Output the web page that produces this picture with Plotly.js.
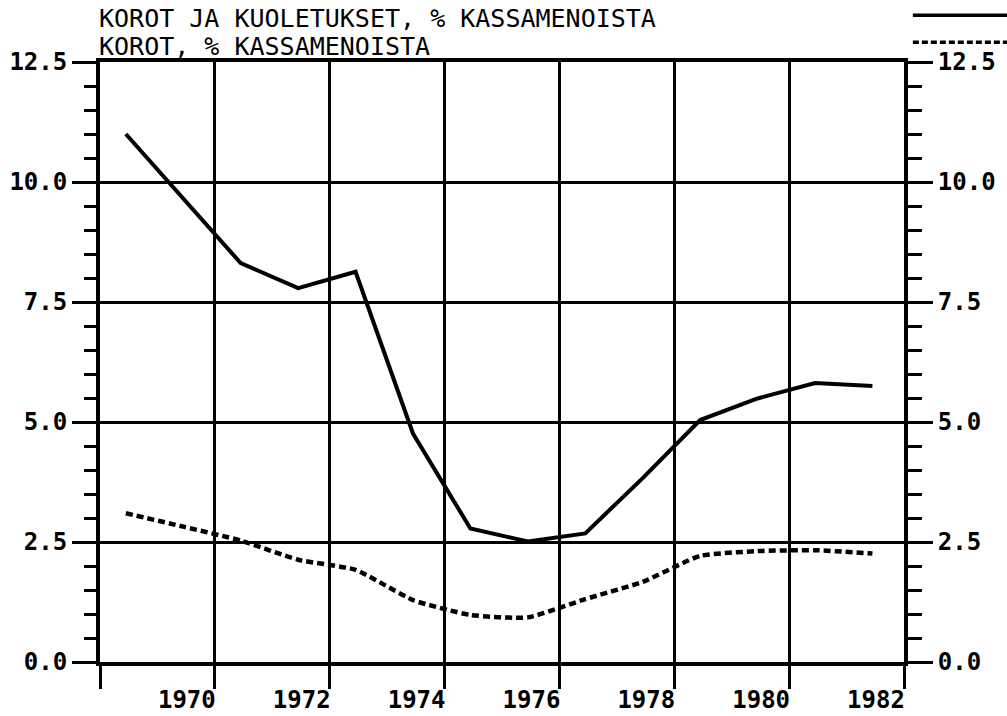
<!DOCTYPE html>
<html>
<head>
<meta charset="utf-8">
<script src="https://cdn.plot.ly/plotly-3.0.1.min.js"></script>
<style>
  html, body { margin: 0; padding: 0; background: #fff; }
  #chart { width: 1007px; height: 716px; }
</style>
</head>
<body>
<div id="chart"></div>
<script>
// ---- data ----
const years = [1968, 1969, 1970, 1971, 1972, 1973, 1974, 1975, 1976, 1977, 1978, 1979, 1980, 1981];
const korotJaKuoletukset = [11.0, 9.65, 8.31, 7.79, 8.13, 4.76, 2.78, 2.51, 2.68, 3.83, 5.04, 5.49, 5.81, 5.75];
const korot = [3.10, 2.82, 2.53, 2.13, 1.92, 1.29, 0.98, 0.93, 1.31, 1.67, 2.21, 2.31, 2.33, 2.26];
const seriesNames = ['KOROT JA KUOLETUKSET, % KASSAMENOISTA', 'KOROT, % KASSAMENOISTA'];
const xTickVals = [1968, 1970, 1972, 1974, 1976, 1978, 1980, 1982];
const xTickText = ['', '1970', '1972', '1974', '1976', '1978', '1980', '1982'];
const yTickVals = [0, 2.5, 5, 7.5, 10, 12.5];
const yTickText = ['0.0', '2.5', '5.0', '7.5', '10.0', '12.5'];

// annual values are plotted at mid-year
const MID = 0.45;
const xs = years.map(y => y + MID);

const FONT = 'DejaVu Sans Mono, Liberation Mono, monospace';
const tickFont = { family: FONT, size: 24, color: '#000', weight: 'bold' };

const traces = [
  { x: xs, y: korotJaKuoletukset, type: 'scatter', mode: 'lines', name: seriesNames[0],
    line: { color: '#000', width: 4 }, hoverinfo: 'x+y' },
  { x: xs, y: korot, type: 'scatter', mode: 'lines', name: seriesNames[1],
    line: { color: '#000', width: 4.5, dash: '7px,4px', shape: 'spline', smoothing: 0.5 }, hoverinfo: 'x+y' },
  { x: xs, y: korot, type: 'scatter', mode: 'lines', yaxis: 'y2', showlegend: false,
    line: { color: 'rgba(0,0,0,0)', width: 0 }, hoverinfo: 'skip' }
];

const yCommon = {
  range: [0, 12.5], tickmode: 'array', tickvals: yTickVals, ticktext: yTickText,
  ticks: 'outside', tickwidth: 3, tickcolor: '#000',
  showline: true, linewidth: 4, linecolor: '#000', zeroline: false,
  tickfont: tickFont, fixedrange: true,
  minor: { dtick: 0.5, tick0: 0, ticks: 'outside', tickwidth: 3, tickcolor: '#000', showgrid: false }
};

const layout = {
  width: 1007, height: 716,
  margin: { l: 100, r: 103, t: 62, b: 54 },
  paper_bgcolor: '#fff', plot_bgcolor: '#fff',
  showlegend: false,
  xaxis: {
    range: [1968, 1982], tickmode: 'array', tickvals: xTickVals, ticktext: xTickText,
    ticks: 'outside', ticklen: 23, tickwidth: 3, tickcolor: '#000',
    showgrid: true, gridcolor: '#000', gridwidth: 3,
    showline: true, mirror: true, linewidth: 4, linecolor: '#000', zeroline: false,
    tickfont: tickFont, ticklabelshift: -28, ticklabelstandoff: -10, fixedrange: true
  },
  yaxis: Object.assign({}, yCommon, {
    side: 'left', ticklen: 24, showgrid: true, gridcolor: '#000', gridwidth: 3,
    minor: Object.assign({}, yCommon.minor, { ticklen: 12 })
  }),
  yaxis2: Object.assign({}, yCommon, {
    side: 'right', overlaying: 'y', anchor: 'x', ticklen: 25, showgrid: false,
    ticklabelstandoff: 0,
    minor: Object.assign({}, yCommon.minor, { ticklen: 14 })
  }),
  annotations: [
    { text: seriesNames[0], xref: 'paper', yref: 'paper', x: -0.004, y: 1.0717,
      xanchor: 'left', yanchor: 'middle', showarrow: false,
      font: { family: FONT, size: 25, color: '#000', weight: 500 } },
    { text: seriesNames[1], xref: 'paper', yref: 'paper', x: -0.004, y: 1.026,
      xanchor: 'left', yanchor: 'middle', showarrow: false,
      font: { family: FONT, size: 25, color: '#000', weight: 500 } }
  ],
  shapes: [
    { type: 'line', xref: 'paper', yref: 'paper', x0: 1.011, x1: 1.13, y0: 1.078, y1: 1.078,
      line: { color: '#000', width: 3.5 } },
    { type: 'line', xref: 'paper', yref: 'paper', x0: 1.011, x1: 1.13, y0: 1.033, y1: 1.033,
      line: { color: '#000', width: 3.5, dash: '6px,3px' } }
  ]
};

Plotly.newPlot('chart', traces, layout, { displayModeBar: false, staticPlot: true });
</script>
</body>
</html>
